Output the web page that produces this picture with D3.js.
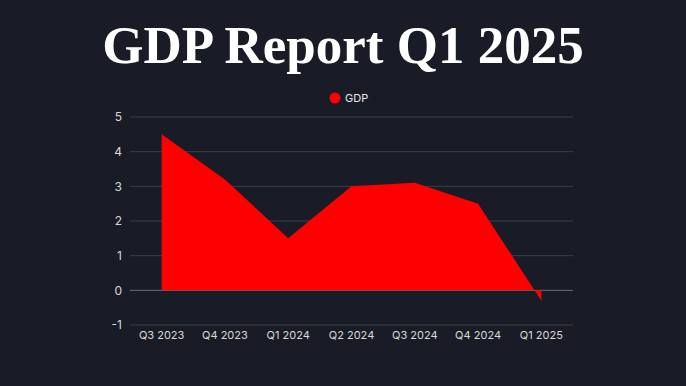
<!DOCTYPE html>
<html>
<head>
<meta charset="utf-8">
<script src="https://cdn.jsdelivr.net/npm/d3@7"></script>
<style>
  html, body { margin: 0; padding: 0; background: #191c26; }
  svg { display: block; }
</style>
</head>
<body>
<div id="chart"></div>
<script>
// data
var quarters = ["Q3 2023", "Q4 2023", "Q1 2024", "Q2 2024", "Q3 2024", "Q4 2024", "Q1 2025"];
var gdpValues = [4.5, 3.2, 1.5, 3.0, 3.1, 2.5, -0.3];
var yTicks = [-1, 0, 1, 2, 3, 4, 5];
var seriesName = "GDP";
var title = "GDP Report Q1 2025";

var W = 686, H = 386;
var margin = {top: 117, right: 113, bottom: 61, left: 130},
    width = W - margin.left - margin.right,
    height = H - margin.top - margin.bottom;

var svg = d3.select("#chart").append("svg")
    .attr("width", W)
    .attr("height", H);

svg.append("rect").attr("width", W).attr("height", H).attr("fill", "#191c26");

// title
svg.append("text")
    .attr("x", 343)
    .attr("y", 63)
    .attr("text-anchor", "middle")
    .attr("fill", "#ffffff")
    .style("font-family", "'Liberation Serif', 'DejaVu Serif', serif")
    .style("font-weight", "bold")
    .style("font-size", "53px")
    .text(title);

// legend
var legend = svg.append("g").attr("transform", "translate(335,98)");
legend.append("circle").attr("r", 5.5).attr("fill", "#ff0000");
legend.append("text")
    .attr("x", 10).attr("y", 4)
    .attr("fill", "#e6e6e6")
    .style("font-family", "Inter, 'Noto Sans', sans-serif")
    .style("font-size", "11px")
    .text(seriesName);

var g = svg.append("g")
    .attr("transform", "translate(" + margin.left + "," + margin.top + ")");

var x = d3.scaleBand().domain(quarters).range([0, width]);
var y = d3.scaleLinear().domain([-1, 5]).range([height, 0]);

// grid
g.append("g").selectAll("line")
  .data(yTicks)
  .join("line")
    .attr("x1", 0).attr("x2", width)
    .attr("y1", d => y(d)).attr("y2", d => y(d))
    .attr("stroke", d => d === 0 ? "#6a6d76" : "#3b3e48")
    .attr("stroke-width", 1);

// y axis labels
var yAxis = g.append("g")
    .call(d3.axisLeft(y).tickValues(yTicks).tickSize(0).tickPadding(8).tickFormat(d => String(d)));
yAxis.select(".domain").remove();
yAxis.selectAll("text")
    .attr("fill", "#d9d9d9")
    .style("font-family", "Inter, 'Noto Sans', sans-serif")
    .style("font-size", "12px");

// x axis labels
var xAxis = g.append("g")
    .attr("transform", "translate(0," + height + ")")
    .call(d3.axisBottom(x).tickSize(0).tickPadding(6));
xAxis.select(".domain").remove();
xAxis.selectAll("text")
    .attr("fill", "#d9d9d9")
    .style("font-family", "Inter, 'Noto Sans', sans-serif")
    .style("font-size", "11px");

// area
var area = d3.area()
    .x((d, i) => x(quarters[i]) + x.bandwidth() / 2)
    .y0(y(0))
    .y1(d => y(d));

g.append("path")
    .datum(gdpValues)
    .attr("d", area)
    .attr("fill", "#ff0000");
</script>
</body>
</html>
